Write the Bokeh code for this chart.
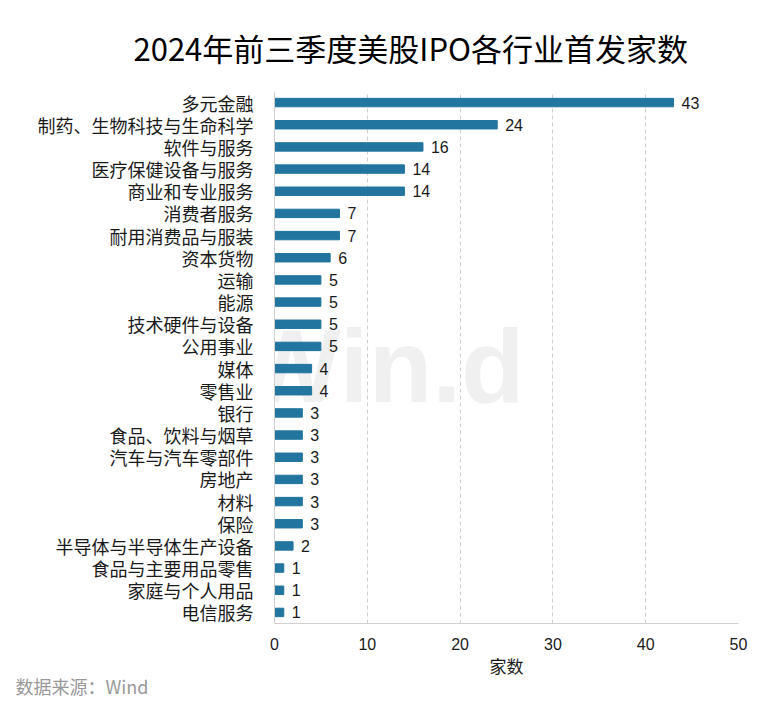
from bokeh.plotting import figure
from bokeh.models import ColumnDataSource, FactorRange, Range1d, Label, LabelSet, FixedTicker, Title
from bokeh.core.properties import value
from bokeh.embed import file_html
from bokeh.resources import INLINE

industries = ["多元金融", "制药、生物科技与生命科学", "软件与服务", "医疗保健设备与服务",
              "商业和专业服务", "消费者服务", "耐用消费品与服装", "资本货物", "运输", "能源",
              "技术硬件与设备", "公用事业", "媒体", "零售业", "银行", "食品、饮料与烟草",
              "汽车与汽车零部件", "房地产", "材料", "保险", "半导体与半导体生产设备",
              "食品与主要用品零售", "家庭与个人用品", "电信服务"]
counts = [43, 24, 16, 14, 14, 7, 7, 6, 5, 5, 5, 5, 4, 4, 3, 3, 3, 3, 3, 3, 2, 1, 1, 1]
x_ticks = [0, 10, 20, 30, 40, 50]

title_text = "2024年前三季度美股IPO各行业首发家数"
x_label = "家数"
source_text = "数据来源：Wind"

CJK = "Noto Sans CJK SC"
LAT = "Liberation Sans"

src = ColumnDataSource(dict(cat=industries, val=counts, lab=[str(v) for v in counts]))

p = figure(width=763, height=711, output_backend="svg", toolbar_location=None,
           y_range=FactorRange(factors=list(reversed(industries)), range_padding=0),
           x_range=Range1d(0, 50),
           min_border_left=274, min_border_right=25, min_border_top=91, min_border_bottom=88)
p.outline_line_color = None
p.background_fill_color = "white"

p.title.text = title_text
p.title.text_font = CJK
p.title.text_font_size = "31px"
p.title.text_font_style = "normal"
p.title.text_color = "#000000"
p.title.align = "left"
p.title.offset = -141
p.title.standoff = 43

wm = Label(x=-32, y=258, x_units="screen", y_units="screen", text="Win.d",
           text_font=LAT, text_font_size="104px",
           text_font_style="bold", text_color="#f0f0f0",
           text_baseline="alphabetic", level="underlay")
p.add_layout(wm)

p.hbar(y="cat", right="val", left=0, height=0.38, color="#21759e", source=src)

labels = LabelSet(x="val", y="cat", text="lab", source=src, x_offset=8,
                  text_align="left", text_baseline="middle",
                  text_font=value(LAT), text_font_size=value("16px"), text_color="#1a1a1a")
p.add_layout(labels)

p.xaxis.ticker = FixedTicker(ticks=x_ticks)
p.xaxis.axis_label = x_label
p.xaxis.axis_label_text_font = CJK
p.xaxis.axis_label_text_font_size = "17px"
p.xaxis.axis_label_text_font_style = "normal"
p.xaxis.axis_label_text_color = "#1a1a1a"
p.xaxis.axis_label_standoff = 0
p.xaxis.major_label_text_font = LAT
p.xaxis.major_label_text_font_size = "16px"
p.xaxis.major_label_text_color = "#1a1a1a"
p.xaxis.major_label_standoff = 14
p.xaxis.major_tick_out = 0
p.xaxis.major_tick_in = 0
p.xaxis.major_tick_line_color = None
p.xaxis.minor_tick_line_color = None
p.xaxis.axis_line_color = "#d0d0d0"

p.yaxis.major_label_text_font = CJK
p.yaxis.major_label_text_font_size = "18px"
p.yaxis.major_label_text_color = "#1a1a1a"
p.yaxis.major_label_standoff = 15
p.yaxis.major_tick_line_color = None
p.yaxis.minor_tick_line_color = None
p.yaxis.axis_line_color = "#d0d0d0"

p.ygrid.grid_line_color = None
p.xgrid.ticker = FixedTicker(ticks=[10, 20, 30, 40, 50])
p.xgrid.grid_line_color = "#cfcfcf"
p.xgrid.grid_line_dash = "4 3"

src_title = Title(text=source_text, text_font=CJK, text_font_size="18px",
                  text_font_style="normal", text_color="#999999",
                  align="left", offset=-259, standoff=-20)
p.add_layout(src_title, "below")

open("out.html", "w").write(file_html(p, INLINE))
